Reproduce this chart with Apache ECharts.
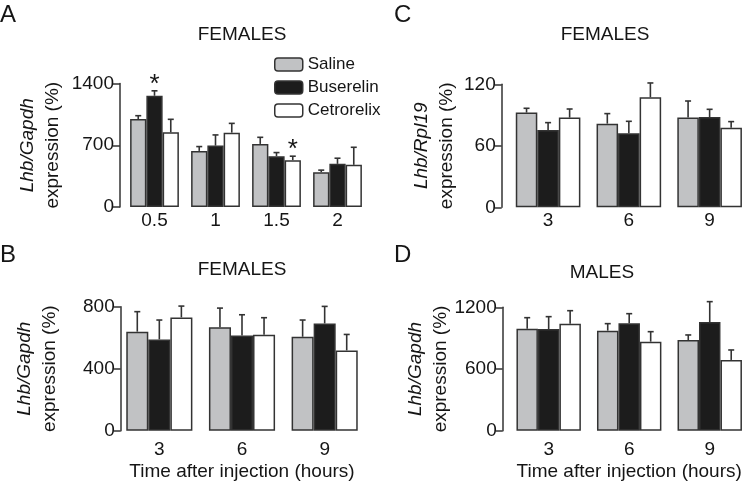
<!DOCTYPE html>
<html lang='en'>
  <head>
    <meta charset='utf-8'>
    <title>Lhb expression</title>
    <style>
      html, body { margin: 0; padding: 0; background: #fff; }
      #main { width: 750px; height: 483px; }
    </style>
  </head>
  <body>
    <div id="main"></div>
    <script src="https://cdn.jsdelivr.net/npm/echarts@6/dist/echarts.min.js"></script>
    <script>
      // ---- data ----
      var groupNames = ['Saline', 'Buserelin', 'Cetrorelix'];

      // A: females, early time points (Lhb/Gapdh)
      var catsA = ['0.5', '1', '1.5', '2'];
      var salineA = [997, 636, 715, 395];
      var salineSemA = [38, 49, 75, 23];
      var buserelinA = [1261, 696, 576, 489];
      var buserelinSemA = [56, 121, 41, 64];
      var cetrorelixA = [847, 843, 531, 478];
      var cetrorelixSemA = [147, 105, 45, 199];
      var starsA = [[0, 1], [2, 2]]; // [category, group]

      // B: females, Lhb/Gapdh
      var catsB = ['3', '6', '9'];
      var salineB = [639, 667, 606];
      var salineSemB = [129, 124, 108];
      var buserelinB = [589, 615, 692];
      var buserelinSemB = [125, 133, 110];
      var cetrorelixB = [731, 619, 518];
      var cetrorelixSemB = [73, 110, 103];

      // C: females, Lhb/Rpl19
      var catsC = ['3', '6', '9'];
      var salineC = [92.4, 81.6, 87.5];
      var salineSemC = [4.2, 9.8, 16.2];
      var buserelinC = [75.4, 72.2, 88.1];
      var buserelinSemC = [7.2, 11.7, 7.5];
      var cetrorelixC = [87.5, 107.3, 77.7];
      var cetrorelixSemC = [8.4, 14.0, 5.9];

      // D: males, Lhb/Gapdh
      var catsD = ['3', '6', '9'];
      var salineD = [992, 973, 882];
      var salineSemD = [107, 68, 49];
      var buserelinD = [989, 1044, 1057];
      var buserelinSemD = [120, 94, 198];
      var cetrorelixD = [1041, 866, 688];
      var cetrorelixSemD = [126, 97, 97];

      var FONT = "'Liberation Sans', Arial, Helvetica, sans-serif";
      var fills = ['#c1c2c4', '#1c1c1c', '#ffffff'];
      var edge = '#333333';
      var ink = '#151515';
      var gapPct = 0.2;

      var myChart = echarts.init(document.getElementById('main'));

      var grids = [], xAxes = [], yAxes = [], series = [];

      // panel helper
      function addPanel(p) {
        var idx = grids.length;
        grids.push({ left: p.left, top: p.top, width: p.width, height: p.height });
        xAxes.push({
          type: 'category', gridIndex: idx, data: p.cats,
          axisLine: { show: false }, axisTick: { show: false },
          axisLabel: { color: ink, fontSize: 19, fontFamily: FONT, margin: p.labelMargin },
          name: p.xName || '', nameLocation: 'middle', nameGap: 32,
          nameTextStyle: { color: ink, fontSize: 19, fontFamily: FONT }
        });
        yAxes.push({
          type: 'value', gridIndex: idx, min: 0, max: p.max, interval: p.interval,
          offset: p.offset,
          axisLine: { show: true, lineStyle: { color: edge, width: 1.5 } },
          axisTick: { show: true, length: 7, lineStyle: { color: edge, width: 1.5 } },
          splitLine: { show: false },
          axisLabel: { color: ink, fontSize: 19, fontFamily: FONT, margin: 6,
                       formatter: function (v) { return String(v); } },
          name: '{i|' + p.gene + '}\n{n|expression (%)}',
          nameLocation: 'middle', nameGap: p.nameGap,
          nameTextStyle: {
            color: ink, fontFamily: FONT,
            rich: {
              i: { fontStyle: 'italic', fontSize: 19, lineHeight: 25, fontFamily: FONT, color: ink },
              n: { fontSize: 19, lineHeight: 25, fontFamily: FONT, color: ink }
            }
          }
        });
        for (var k = 0; k < 3; k++) {
          series.push({
            name: groupNames[k], type: 'bar', xAxisIndex: idx, yAxisIndex: idx,
            data: p.means[k], barGap: 0, barCategoryGap: (gapPct * 100) + '%',
            itemStyle: { color: fills[k], borderColor: edge, borderWidth: 1.5 },
            emphasis: { disabled: true }, animation: false
          });
        }
        for (var k2 = 0; k2 < 3; k2++) {
          (function (k) {
            var rows = p.means[k].map(function (m, i) {
              var star = (p.stars || []).some(function (s) { return s[0] === i && s[1] === k; }) ? 1 : 0;
              return [i, m, m + p.sems[k][i], star];
            });
            series.push({
              type: 'custom', xAxisIndex: idx, yAxisIndex: idx, z: 5,
              data: rows, encode: { x: 0, y: [1, 2] }, animation: false, silent: true,
              renderItem: function (params, api) {
                var band = api.size([1, 0])[0];
                var bw = band * (1 - gapPct) / 3;
                var base = api.coord([api.value(0), api.value(1)]);
                var top = api.coord([api.value(0), api.value(2)]);
                var x = base[0] + (k - 1) * bw;
                var cap = 3;
                var children = [
                  { type: 'line', shape: { x1: x, y1: base[1], x2: x, y2: top[1] }, style: { stroke: edge, lineWidth: 1.6 } },
                  { type: 'line', shape: { x1: x - cap, y1: top[1], x2: x + cap, y2: top[1] }, style: { stroke: edge, lineWidth: 1.6 } }
                ];
                if (api.value(3)) {
                  children.push({
                    type: 'text',
                    style: { text: '*', x: x, y: top[1] + 7, align: 'center', verticalAlign: 'bottom',
                             fontSize: 26, fontFamily: FONT, fill: ink }
                  });
                }
                return { type: 'group', children: children };
              }
            });
          })(k2);
        }
      }

      addPanel({ cats: catsA, left: 124, top: 83.5, width: 244, height: 123.5, max: 1400, interval: 700,
        offset: 4, gene: 'Lhb/Gapdh', nameGap: 55, labelMargin: 4,
        means: [salineA, buserelinA, cetrorelixA], sems: [salineSemA, buserelinSemA, cetrorelixSemA], stars: starsA });
      addPanel({ cats: catsB, left: 118, top: 306.7, width: 248, height: 124, max: 800, interval: 400,
        offset: -2.7, gene: 'Lhb/Gapdh', nameGap: 58, labelMargin: 10, xName: 'Time after injection (hours)',
        means: [salineB, buserelinB, cetrorelixB], sems: [salineSemB, buserelinSemB, cetrorelixSemB] });
      addPanel({ cats: catsC, left: 507.7, top: 84.3, width: 247.5, height: 123, max: 120, interval: 60,
        offset: 6, gene: 'Lhb/Rpl19', nameGap: 42, labelMargin: 4,
        means: [salineC, buserelinC, cetrorelixC], sems: [salineSemC, buserelinSemC, cetrorelixSemC] });
      addPanel({ cats: catsD, left: 508.4, top: 307.3, width: 247, height: 123.4, max: 1200, interval: 600,
        offset: 5.7, gene: 'Lhb/Gapdh', nameGap: 43, labelMargin: 10, xName: 'Time after injection (hours)',
        means: [salineD, buserelinD, cetrorelixD], sems: [salineSemD, buserelinSemD, cetrorelixSemD] });

      function ttl(text, left, top, size, align) {
        return { text: text, left: left, top: top, padding: 0, textAlign: align || 'left',
                 textStyle: { fontSize: size, fontWeight: 'normal', color: ink, fontFamily: FONT } };
      }

      var option = {
        backgroundColor: '#fff',
        animation: false,
        title: [
          ttl('A', 0, 3, 24), ttl('C', 394, 3, 24), ttl('B', 0, 243, 24), ttl('D', 394, 243, 24),
          ttl('FEMALES', 242, 25, 19, 'center'), ttl('FEMALES', 605, 25, 19, 'center'),
          ttl('FEMALES', 242, 260, 19, 'center'), ttl('MALES', 602, 263, 19, 'center')
        ],
        legend: {
          data: groupNames, orient: 'vertical', left: 274, top: 56, padding: 0,
          itemWidth: 28, itemHeight: 13, itemGap: 6, selectedMode: false,
          itemStyle: { borderColor: edge, borderWidth: 1.5 },
          textStyle: { fontSize: 17, color: ink, fontFamily: FONT }
        },
        grid: grids, xAxis: xAxes, yAxis: yAxes, series: series
      };
      myChart.setOption(option);
    </script>
  </body>
</html>
